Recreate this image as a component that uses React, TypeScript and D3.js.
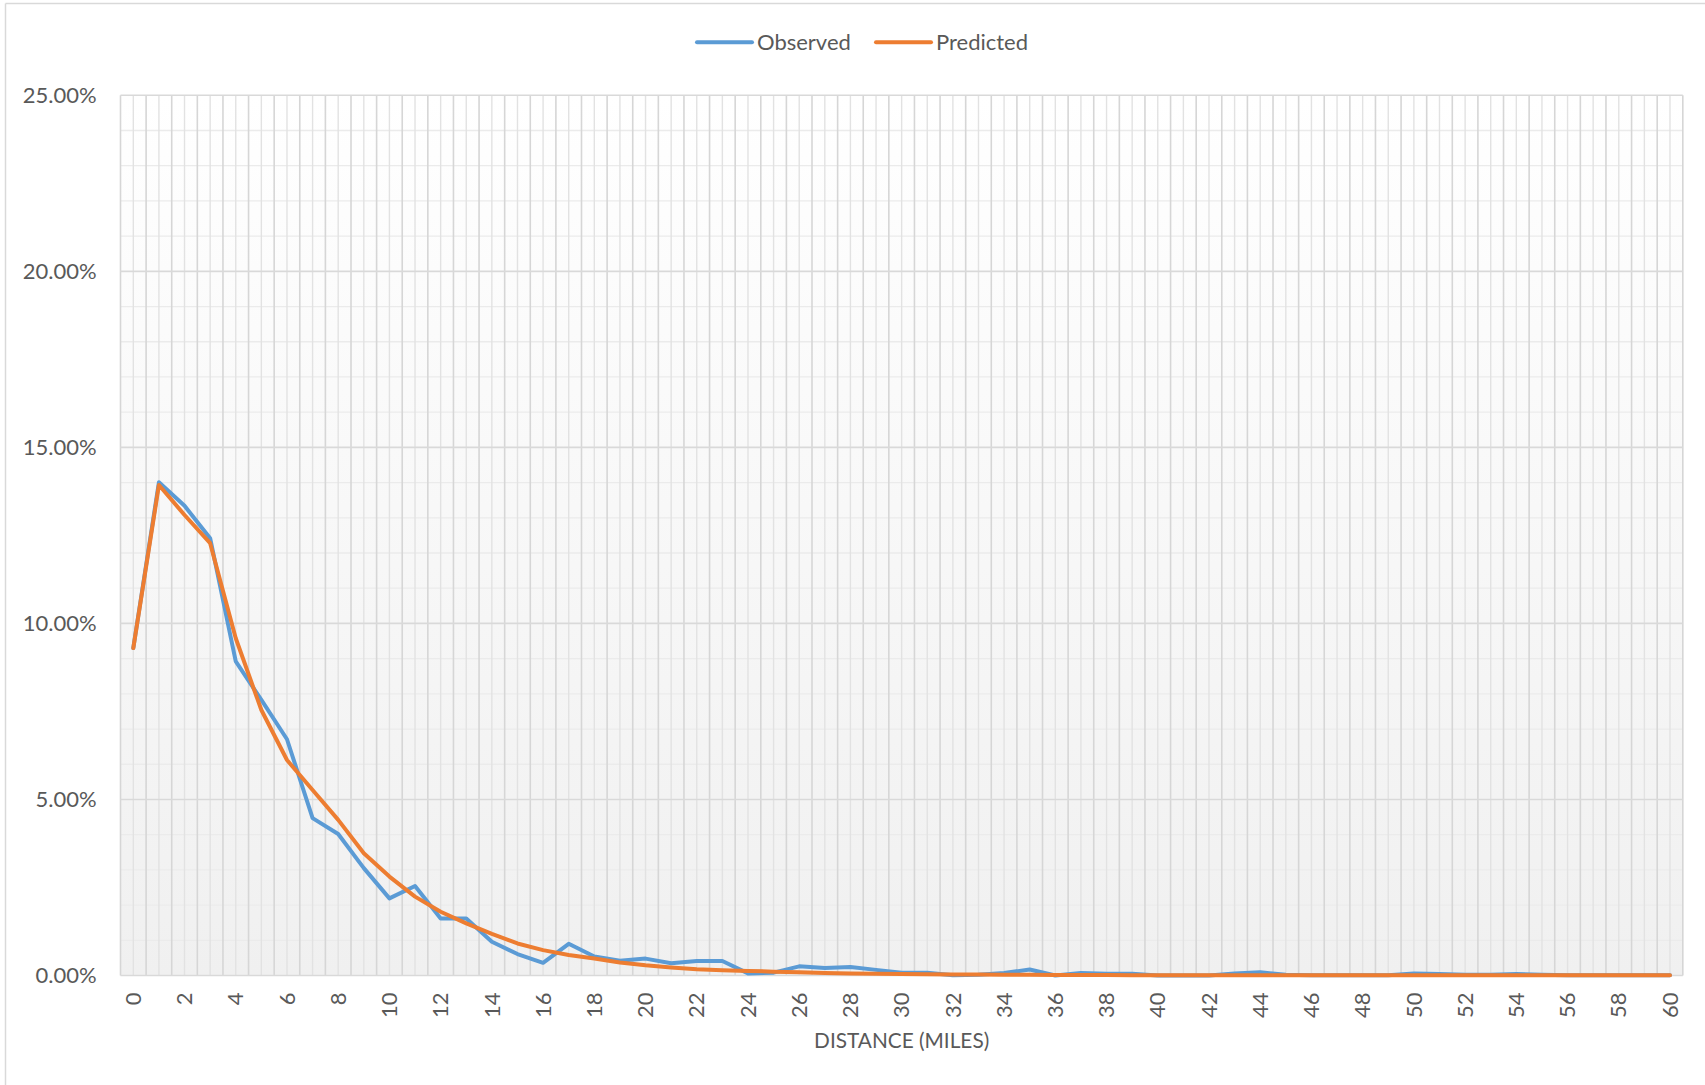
import React from 'react';
import * as d3 from 'd3';

// distance bins (miles)
const distances: number[] = d3.range(0, 61);

// share of trips, in percent
const observed: number[] = [
  9.30, 14.01, 13.34, 12.42, 8.92, 7.83, 6.71, 4.47, 4.02, 3.05,
  2.19, 2.54, 1.62, 1.62, 0.96, 0.61, 0.36, 0.90, 0.54, 0.42,
  0.48, 0.35, 0.41, 0.41, 0.06, 0.08, 0.26, 0.21, 0.24, 0.16,
  0.08, 0.08, 0.01, 0.02, 0.07, 0.17, 0.00, 0.07, 0.05, 0.05,
  0.00, 0.00, 0.00, 0.06, 0.09, 0.02, 0.01, 0.01, 0.01, 0.01,
  0.06, 0.04, 0.02, 0.02, 0.04, 0.02, 0.01, 0.01, 0.01, 0.01,
  0.01,
];

const predicted: number[] = [
  9.30, 13.93, 13.08, 12.28, 9.58, 7.54, 6.12, 5.27, 4.42, 3.47,
  2.81, 2.24, 1.81, 1.48, 1.18, 0.91, 0.72, 0.58, 0.48, 0.37,
  0.29, 0.23, 0.18, 0.15, 0.13, 0.11, 0.09, 0.07, 0.06, 0.05,
  0.04, 0.035, 0.03, 0.025, 0.02, 0.02, 0.015, 0.015, 0.012, 0.01,
  0.01, 0.01, 0.01, 0.01, 0.01, 0.01, 0.008, 0.008, 0.008, 0.008,
  0.006, 0.006, 0.006, 0.006, 0.005, 0.005, 0.005, 0.004, 0.004, 0.004,
  0.004,
];

const yTicks: number[] = [0, 5, 10, 15, 20, 25];
const yMinorTicks: number[] = d3.range(0, 26);
const xTickLabels: number[] = distances.filter(d => d % 2 === 0);

const seriesNames = ['Observed', 'Predicted'];
const seriesColors = ['#5B9BD5', '#ED7D31'];

const W = 1705;
const H = 1085;
const margin = { top: 95.3, right: 22.2, bottom: 109.5, left: 120.5 };
const FONT = 'Lato, "Open Sans", sans-serif';
const TEXT = '#595959';

const App: React.FC = () => {
  const x = d3.scalePoint<number>()
    .domain(distances)
    .range([margin.left, W - margin.right])
    .padding(0.5);

  const y = d3.scaleLinear()
    .domain([0, 25])
    .range([H - margin.bottom, margin.top]);

  const step = x.step();
  const boundaries = d3.range(0, distances.length + 1).map(i => margin.left + i * step);

  const line = d3.line<number>()
    .x((_, i) => x(distances[i]) as number)
    .y(d => y(d));

  const series = [observed, predicted];

  return (
    <div style={{ position: 'absolute', left: 0, top: 0 }}>
      <svg width={W} height={H} style={{ display: 'block', background: '#fff' }}>
        <defs>
          <linearGradient id="plotBg" x1="0" y1="0" x2="0" y2="1">
            <stop offset="0%" stopColor="#ffffff" />
            <stop offset="100%" stopColor="#f0f0f0" />
          </linearGradient>
        </defs>

        {/* chart frame */}
        <line x1={5.5} x2={W} y1={3.5} y2={3.5} stroke="#d9d9d9" strokeWidth={1.5} />
        <line x1={5.5} x2={5.5} y1={3.5} y2={H} stroke="#d9d9d9" strokeWidth={1.5} />

        {/* plot area */}
        <rect
          x={margin.left}
          y={margin.top}
          width={W - margin.left - margin.right}
          height={H - margin.top - margin.bottom}
          fill="url(#plotBg)"
        />

        {/* minor gridlines */}
        {yMinorTicks.filter(t => t % 5 !== 0).map(t => (
          <line key={'hm' + t} x1={margin.left} x2={W - margin.right} y1={y(t)} y2={y(t)}
            stroke="#ebebeb" strokeWidth={1.3} />
        ))}
        {distances.map(d => (
          <line key={'vm' + d} x1={x(d)} x2={x(d)} y1={margin.top} y2={H - margin.bottom}
            stroke="#e2e2e2" strokeWidth={1.4} />
        ))}

        {/* major gridlines */}
        {boundaries.map((bx, i) => (
          <line key={'vM' + i} x1={bx} x2={bx} y1={margin.top} y2={H - margin.bottom}
            stroke="#d6d6d6" strokeWidth={1.6} />
        ))}
        {yTicks.map(t => (
          <line key={'hM' + t} x1={margin.left} x2={W - margin.right} y1={y(t)} y2={y(t)}
            stroke="#d9d9d9" strokeWidth={1.6} />
        ))}

        {/* y tick labels */}
        {yTicks.map(t => (
          <text key={'yl' + t} x={96.7} y={y(t)} dy="0.35em" textAnchor="end"
            fontFamily={FONT} fontSize={22} fill={TEXT}>
            {t.toFixed(2) + '%'}
          </text>
        ))}

        {/* x tick labels */}
        {xTickLabels.map(d => (
          <text key={'xl' + d} transform={`translate(${x(d)},${H - margin.bottom + 17}) rotate(-90)`}
            dy="0.35em" textAnchor="end" fontFamily={FONT} fontSize={22} fill={TEXT}>
            {d}
          </text>
        ))}

        {/* axis title */}
        <text x={(margin.left + W - margin.right) / 2} y={1048} textAnchor="middle"
          fontFamily={FONT} fontSize={20.8} fill={TEXT}>
          DISTANCE (MILES)
        </text>

        {/* series */}
        {series.map((s, k) => (
          <path key={'s' + k} d={line(s) || ''} fill="none" stroke={seriesColors[k]}
            strokeWidth={4} strokeLinejoin="round" strokeLinecap="round" />
        ))}

        {/* legend */}
        {seriesNames.map((name, k) => {
          const lx = k === 0 ? 697 : 876;
          return (
            <g key={'lg' + k}>
              <line x1={lx} x2={lx + 55} y1={42.3} y2={42.3} stroke={seriesColors[k]}
                strokeWidth={4} strokeLinecap="round" />
              <text x={lx + 60} y={49.5} fontFamily={FONT} fontSize={22} fill={TEXT}>
                {name}
              </text>
            </g>
          );
        })}
      </svg>
    </div>
  );
};

export default App;
